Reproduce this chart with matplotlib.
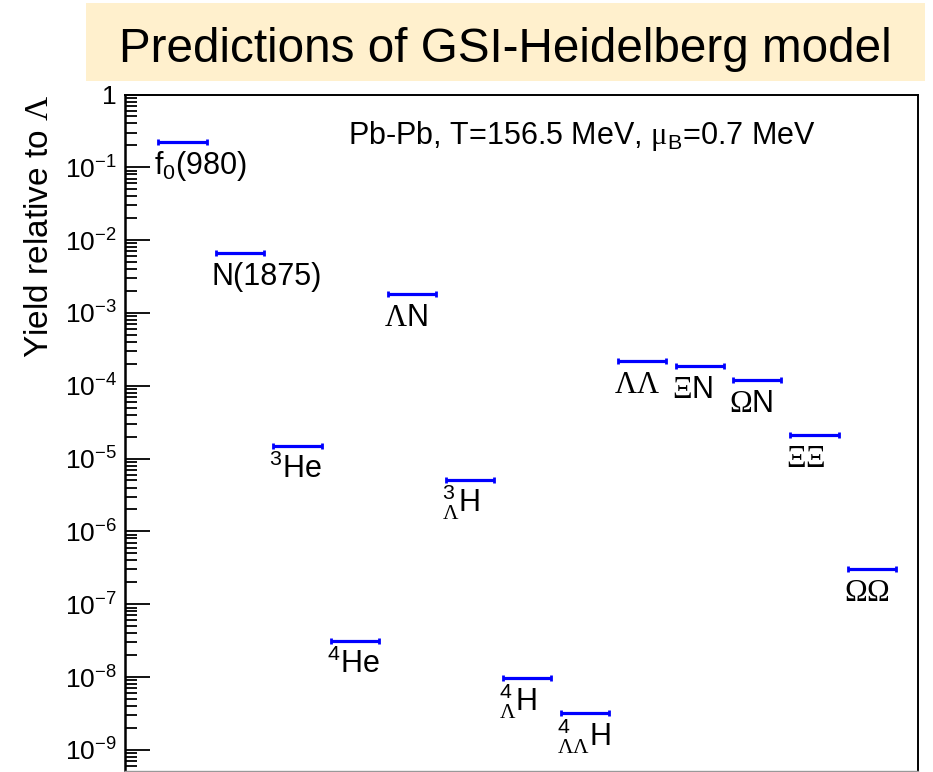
import numpy as np
import matplotlib
matplotlib.use("Agg")
import matplotlib.pyplot as plt
from matplotlib.patches import Rectangle
from matplotlib.ticker import FixedLocator, LogLocator, FuncFormatter, NullFormatter

plt.rcParams["font.family"] = ["Liberation Sans", "DejaVu Sans"]
plt.rcParams["mathtext.fontset"] = "custom"
plt.rcParams["mathtext.rm"] = "Liberation Sans"
plt.rcParams["mathtext.it"] = "Liberation Sans:italic"
plt.rcParams["mathtext.cal"] = "Liberation Serif"
plt.rcParams["mathtext.default"] = "regular"

# particle / cluster names, in plotting order
species = [
    r"f$_{0}$(980)",
    "N(1875)",
    r"$^{3}$He",
    r"$^{4}$He",
    r"$\mathcal{\Lambda}$N",
    r"$^{3}_{\mathcal{\Lambda}}$H",
    r"$^{4}_{\mathcal{\Lambda}}$H",
    r"$^{4}_{\mathcal{\Lambda\Lambda}}$H",
    r"$\mathcal{\Lambda\Lambda}$",
    r"$\mathcal{\Xi}$N",
    r"$\mathcal{\Omega}$N",
    r"$\mathcal{\Xi\Xi}$",
    r"$\mathcal{\Omega\Omega}$",
]
# yields relative to Lambda
yields = [2.2e-1, 6.7e-3, 1.5e-5, 3.1e-8, 1.8e-3, 5.1e-6, 9.6e-9,
          3.2e-9, 2.2e-4, 1.85e-4, 1.2e-4, 2.1e-5, 3.05e-7]
decades = np.arange(-9, 1)

xpos = np.arange(1, len(yields) + 1)
halfw = 0.42

fig = plt.figure(figsize=(9.33, 7.72), dpi=100)

# title banner
fig.patches.append(Rectangle((86 / 933, 1 - 81 / 772), (925 - 86) / 933, 78 / 772,
                             transform=fig.transFigure, facecolor="#FFF0CD",
                             edgecolor="none", zorder=0))
fig.text(505 / 933, 1 - 62 / 772, "Predictions of GSI-Heidelberg model",
         ha="center", va="baseline", fontsize=34.3)

ax = fig.add_axes([125 / 933, 1.5 / 772, 793 / 933, (771 - 95) / 772])
ax.set_yscale("log")
ax.set_ylim(5.2e-10, 1)
ax.set_xlim(0, 13.8)

ax.errorbar(xpos, yields, xerr=halfw, fmt="none", ecolor="blue",
            elinewidth=2.3, capsize=2.2, capthick=2.0)

for xi, yi, lab in zip(xpos, yields, species):
    ax.annotate(lab, xy=(xi - halfw, yi), xytext=(-4, -32),
                textcoords="offset pixels", ha="left", va="baseline",
                fontsize=22)

fig.text(348 / 933, 1 - 144 / 772,
         r"Pb-Pb, T=156.5 MeV, $\mathcal{\mu}_{\mathrm{B}}$=0.7 MeV",
         ha="left", va="baseline", fontsize=22)

# ROOT-like axis styling
ax.yaxis.set_major_locator(FixedLocator(10.0 ** decades))
ax.yaxis.set_minor_locator(LogLocator(base=10, subs=np.arange(2, 10), numticks=20))
ax.yaxis.set_minor_formatter(NullFormatter())
ax.yaxis.set_major_formatter(FuncFormatter(
    lambda v, p: "1" if abs(v - 1) < 1e-9 else r"$10^{%d}$" % round(np.log10(v))))
ax.tick_params(axis="y", which="major", direction="in", length=18, width=1.3,
               labelsize=19, pad=6)
ax.tick_params(axis="y", which="minor", direction="in", length=8.5, width=1.3)
ax.tick_params(axis="x", which="both", bottom=False, labelbottom=False)

ax.spines["left"].set_linewidth(1.8)
ax.spines["top"].set_linewidth(1.4)
ax.spines["right"].set_linewidth(1.4)
ax.spines["bottom"].set_linewidth(1.0)
ax.spines["bottom"].set_color("#999999")

ax.set_ylabel(r"Yield relative to $\mathcal{\Lambda}$", fontsize=24, loc="top")
ax.yaxis.set_label_coords(-0.088, 1.0)

fig.savefig("out.png", dpi=100)
